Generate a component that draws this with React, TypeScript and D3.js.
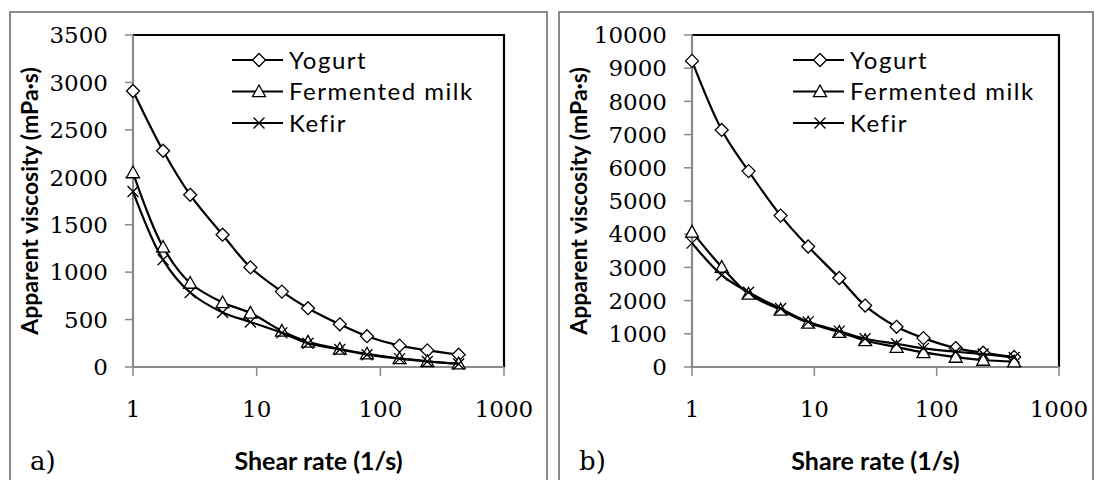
import * as d3 from "d3";

// shear rate (1/s), same for both panels
const shearRate = [1, 1.75, 2.9, 5.3, 8.9, 16, 26, 47, 78, 143, 240, 430];

// panel a)
const yogurtA = [2910, 2280, 1815, 1395, 1050, 795, 620, 450, 325, 225, 175, 130];
const fermentedA = [2050, 1265, 885, 680, 570, 380, 265, 190, 140, 90, 60, 35];
const kefirA = [1850, 1130, 785, 575, 475, 360, 250, 185, 130, 88, 58, 32];

// panel b)
const yogurtB = [9220, 7140, 5900, 4560, 3630, 2680, 1850, 1210, 870, 570, 430, 300];
const fermentedB = [4070, 3010, 2200, 1720, 1330, 1050, 800, 600, 440, 300, 210, 160];
const kefirB = [3730, 2770, 2250, 1760, 1360, 1080, 850, 700, 560, 460, 390, 285];

const xTicks = [1, 10, 100, 1000];
const yTicksA = d3.range(0, 3501, 500);
const yTicksB = d3.range(0, 10001, 1000);

const seriesNames = ["Yogurt", "Fermented milk", "Kefir"];
const markers = ["diamond", "triangle", "cross"];

const AXIS_GRAY = "#8a8a8a";
const SERIF = "'DejaVu Serif', 'Liberation Serif', serif";
const SANS = "Lato, 'Open Sans', sans-serif";

function Marker({ kind, x, y }: { kind: string; x: number; y: number }) {
  if (kind === "diamond") {
    const r = 6.5;
    return (
      <path
        d={`M${x},${y - r}L${x + r},${y}L${x},${y + r}L${x - r},${y}Z`}
        fill="#fff" stroke="#000" strokeWidth={1.3}
      />
    );
  }
  if (kind === "triangle") {
    const r = 6.5;
    return (
      <path
        d={`M${x},${y - r}L${x + r},${y + r * 0.8}L${x - r},${y + r * 0.8}Z`}
        fill="#fff" stroke="#000" strokeWidth={1.3}
      />
    );
  }
  const r = 5.5;
  return (
    <path
      d={`M${x - r},${y - r}L${x + r},${y + r}M${x - r},${y + r}L${x + r},${y - r}`}
      stroke="#000" strokeWidth={1.3}
    />
  );
}

interface PanelProps {
  box: [number, number, number];
  plot: { left: number; right: number; top: number; bottom: number };
  yMax: number;
  yTicks: number[];
  series: number[][];
  xTitle: string;
  tag: string;
  legendX: number;
}

function Panel({ box, plot, yMax, yTicks, series, xTitle, tag, legendX }: PanelProps) {
  const x = d3.scaleLog().domain([1, 1000]).range([plot.left, plot.right]);
  const y = d3.scaleLinear().domain([0, yMax]).range([plot.bottom, plot.top]);
  const line = d3
    .line<number>()
    .x((_, i) => x(shearRate[i]))
    .y((d) => y(d))
    .curve(d3.curveCatmullRom);

  const [bx0, bx1, by0] = box;
  const midY = 201;

  return (
    <g>
      {/* outer frame */}
      <path
        d={`M${bx0},490V${by0}H${bx1}V490`}
        fill="none" stroke={AXIS_GRAY} strokeWidth={2}
      />

      {/* plot frame */}
      <path
        d={`M${plot.left},${plot.top}H${plot.right}V${plot.bottom}`}
        fill="none" stroke="#000" strokeWidth={2.2}
      />
      <path
        d={`M${plot.left},${plot.top}V${plot.bottom}H${plot.right}`}
        fill="none" stroke={AXIS_GRAY} strokeWidth={2.2}
      />

      {/* y ticks */}
      {yTicks.map((t) => (
        <g key={t}>
          <line x1={plot.left - 8} x2={plot.left} y1={y(t)} y2={y(t)} stroke={AXIS_GRAY} strokeWidth={1.5} />
          <text
            x={plot.left - 25} y={y(t)} dy="0.36em" textAnchor="end"
            fontFamily={SERIF} fontSize={23} fill="#000"
          >
            {t}
          </text>
        </g>
      ))}

      {/* x ticks */}
      {xTicks.map((t) => (
        <g key={t}>
          <line x1={x(t)} x2={x(t)} y1={plot.bottom} y2={plot.bottom + 9} stroke={AXIS_GRAY} strokeWidth={1.5} />
          <text
            x={x(t)} y={plot.bottom + 50} textAnchor="middle"
            fontFamily={SERIF} fontSize={23} fill="#000"
          >
            {t}
          </text>
        </g>
      ))}

      {/* series */}
      {series.map((vals, si) => (
        <g key={si}>
          <path d={line(vals) || ""} fill="none" stroke="#000" strokeWidth={2.2} />
          {vals.map((v, i) => (
            <Marker key={i} kind={markers[si]} x={x(shearRate[i])} y={y(v)} />
          ))}
        </g>
      ))}

      {/* legend */}
      {seriesNames.map((name, i) => {
        const ly = 60 + i * 31.5;
        return (
          <g key={name}>
            <line x1={legendX} x2={legendX + 51} y1={ly} y2={ly} stroke="#000" strokeWidth={2.2} />
            <Marker kind={markers[i]} x={legendX + 27} y={ly} />
            <text
              x={legendX + 57} y={ly} dy="0.36em"
              fontFamily={SANS} fontSize={24} letterSpacing={1.5} fill="#000"
            >
              {name}
            </text>
          </g>
        );
      })}

      {/* axis titles */}
      <text
        transform={`translate(${bx0 + 28},${midY}) rotate(-90)`}
        textAnchor="middle" fontFamily={SANS} fontWeight={700} fontSize={23} fill="#000"
      >
        Apparent viscosity (mPa·s)
      </text>
      <text
        x={(plot.left + plot.right) / 2} y={470} textAnchor="middle"
        fontFamily={SANS} fontWeight={700} fontSize={25} fill="#000"
      >
        {xTitle}
      </text>
      <text x={bx0 + 20} y={470} fontFamily={SERIF} fontSize={26} fill="#000">
        {tag}
      </text>
    </g>
  );
}

export default function App() {
  return (
    <svg
      width={1094} height={480}
      style={{ position: "absolute", left: 0, top: 0, background: "#fff" }}
    >
      <rect width={1094} height={480} fill="#fff" />
      <Panel
        box={[10, 547, 12]}
        plot={{ left: 133, right: 504, top: 35, bottom: 367 }}
        yMax={3500}
        yTicks={yTicksA}
        series={[yogurtA, fermentedA, kefirA]}
        xTitle="Shear rate (1/s)"
        tag="a)"
        legendX={232}
      />
      <Panel
        box={[559, 1093, 12]}
        plot={{ left: 692, right: 1059, top: 35, bottom: 367 }}
        yMax={10000}
        yTicks={yTicksB}
        series={[yogurtB, fermentedB, kefirB]}
        xTitle="Share rate (1/s)"
        tag="b)"
        legendX={793}
      />
    </svg>
  );
}
